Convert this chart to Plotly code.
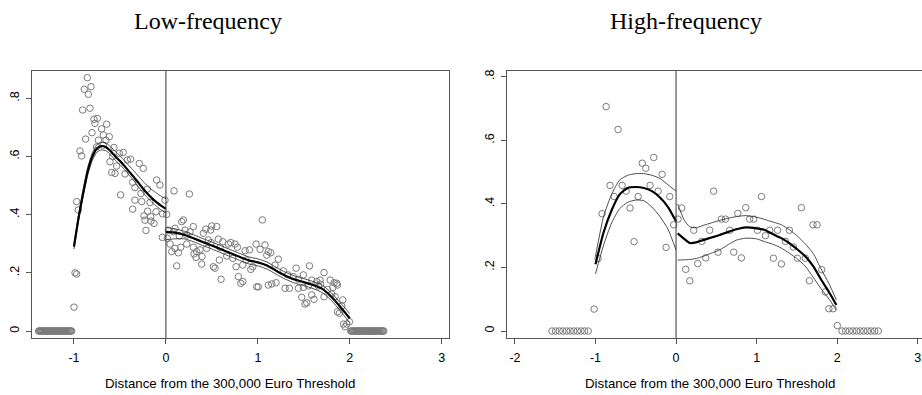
import numpy as np
import plotly.graph_objects as go

# ---------------- data: Low-frequency panel ----------------
lf_zero_left_x = [round(-1.385 + 0.01 * i, 3) for i in range(37)]
lf_zero_right_x = [round(2.01 + 0.01 * i, 3) for i in range(37)]

lf_pts = [
    (-1.0, 0.082), (-0.989, 0.20), (-0.971, 0.196), (-0.971, 0.445), (-0.953, 0.416),
    (-0.935, 0.619), (-0.917, 0.602), (-0.906, 0.760), (-0.888, 0.831), (-0.873, 0.660),
    (-0.855, 0.871), (-0.844, 0.814), (-0.826, 0.766), (-0.815, 0.840), (-0.804, 0.682),
    (-0.783, 0.728), (-0.772, 0.714), (-0.754, 0.633), (-0.746, 0.731), (-0.735, 0.656),
    (-0.699, 0.695), (-0.681, 0.674), (-0.681, 0.639), (-0.652, 0.656), (-0.645, 0.711),
    (-0.616, 0.668), (-0.609, 0.582), (-0.590, 0.545), (-0.580, 0.600), (-0.565, 0.631),
    (-0.554, 0.542), (-0.536, 0.567), (-0.507, 0.611), (-0.493, 0.468), (-0.464, 0.614),
    (-0.445, 0.540), (-0.420, 0.588), (-0.384, 0.591), (-0.362, 0.511), (-0.362, 0.419),
    (-0.337, 0.493), (-0.337, 0.450), (-0.290, 0.576), (-0.272, 0.473), (-0.263, 0.445),
    (-0.246, 0.559), (-0.239, 0.396), (-0.228, 0.381), (-0.217, 0.346), (-0.203, 0.488),
    (-0.199, 0.412), (-0.173, 0.442), (-0.166, 0.393), (-0.163, 0.378), (-0.129, 0.370),
    (-0.108, 0.410), (-0.101, 0.519), (-0.065, 0.502), (-0.039, 0.322), (-0.036, 0.403),
    (-0.010, 0.450),
    (0.008, 0.401), (0.015, 0.319), (0.026, 0.347), (0.045, 0.299), (0.063, 0.273),
    (0.081, 0.341), (0.088, 0.482), (0.099, 0.353), (0.099, 0.284), (0.117, 0.224),
    (0.135, 0.269), (0.146, 0.327), (0.161, 0.288), (0.172, 0.376), (0.190, 0.382),
    (0.208, 0.347), (0.226, 0.330), (0.226, 0.299), (0.255, 0.471), (0.262, 0.341),
    (0.298, 0.359), (0.298, 0.288), (0.306, 0.265), (0.327, 0.253), (0.335, 0.273),
    (0.371, 0.279), (0.389, 0.230), (0.393, 0.256), (0.407, 0.336), (0.433, 0.350),
    (0.444, 0.284), (0.462, 0.313), (0.487, 0.347), (0.491, 0.304), (0.498, 0.361),
    (0.516, 0.221), (0.534, 0.216), (0.553, 0.359), (0.570, 0.316), (0.581, 0.244),
    (0.589, 0.288), (0.600, 0.178), (0.618, 0.307), (0.661, 0.258), (0.680, 0.299),
    (0.705, 0.304), (0.727, 0.250), (0.752, 0.299), (0.763, 0.221), (0.777, 0.288),
    (0.788, 0.187), (0.814, 0.164), (0.836, 0.170), (0.836, 0.227), (0.861, 0.276),
    (0.872, 0.244), (0.908, 0.279), (0.923, 0.212), (0.945, 0.221), (0.980, 0.299),
    (0.988, 0.152),
    (1.005, 0.152), (1.024, 0.281), (1.049, 0.382), (1.078, 0.296), (1.097, 0.261),
    (1.114, 0.273), (1.114, 0.158), (1.140, 0.269), (1.151, 0.162), (1.187, 0.227),
    (1.198, 0.166), (1.223, 0.247), (1.278, 0.207), (1.296, 0.147), (1.326, 0.193),
    (1.343, 0.147), (1.386, 0.187), (1.416, 0.216), (1.441, 0.178), (1.441, 0.147),
    (1.477, 0.116), (1.495, 0.193), (1.495, 0.150), (1.513, 0.093), (1.532, 0.097),
    (1.550, 0.155), (1.561, 0.224), (1.586, 0.175), (1.586, 0.124), (1.611, 0.109),
    (1.641, 0.170), (1.659, 0.155), (1.677, 0.175), (1.684, 0.161), (1.720, 0.201),
    (1.720, 0.118), (1.756, 0.143), (1.786, 0.175), (1.804, 0.127), (1.815, 0.150),
    (1.829, 0.166), (1.840, 0.118), (1.858, 0.164), (1.866, 0.158), (1.866, 0.066),
    (1.887, 0.061), (1.913, 0.086), (1.924, 0.107), (1.931, 0.024), (1.949, 0.015),
    (1.967, 0.024), (1.996, 0.032),
]
lf_x = [p[0] for p in lf_pts]
lf_y = [p[1] for p in lf_pts]

lf_fitL_x = [-1.0, -0.95, -0.9, -0.85, -0.8, -0.75, -0.7, -0.65, -0.6, -0.55, -0.5,
             -0.45, -0.4, -0.35, -0.3, -0.25, -0.2, -0.15, -0.1, -0.05, 0.0]
lf_fitL_y = [0.29, 0.39, 0.475, 0.55, 0.60, 0.628, 0.636, 0.632, 0.618, 0.600, 0.585,
             0.567, 0.548, 0.53, 0.51, 0.49, 0.472, 0.456, 0.442, 0.43, 0.42]
lf_fitL_hi = [0.298, 0.40, 0.487, 0.563, 0.613, 0.641, 0.649, 0.646, 0.633, 0.617, 0.603,
              0.586, 0.568, 0.551, 0.533, 0.515, 0.499, 0.485, 0.474, 0.463, 0.455]
lf_fitL_lo = [0.282, 0.38, 0.463, 0.537, 0.587, 0.615, 0.623, 0.619, 0.605, 0.587, 0.572,
              0.555, 0.536, 0.517, 0.496, 0.476, 0.458, 0.442, 0.428, 0.416, 0.406]

lf_fitR_x = [0.0, 0.1, 0.2, 0.3, 0.4, 0.5, 0.6, 0.7, 0.8, 0.9, 1.0, 1.1, 1.2, 1.3, 1.4,
             1.5, 1.6, 1.7, 1.8, 1.9, 2.0]
lf_fitR_y = [0.341, 0.338, 0.331, 0.319, 0.306, 0.294, 0.281, 0.268, 0.255, 0.243, 0.236,
             0.225, 0.207, 0.190, 0.177, 0.168, 0.158, 0.145, 0.118, 0.082, 0.044]
lf_fitR_hi = [0.356, 0.351, 0.343, 0.331, 0.318, 0.306, 0.293, 0.280, 0.267, 0.255, 0.248,
              0.237, 0.219, 0.202, 0.189, 0.180, 0.170, 0.158, 0.131, 0.096, 0.060]
lf_fitR_lo = [0.314, 0.317, 0.317, 0.307, 0.294, 0.282, 0.269, 0.256, 0.243, 0.231, 0.224,
              0.213, 0.195, 0.178, 0.165, 0.156, 0.146, 0.132, 0.105, 0.068, 0.028]

# ---------------- data: High-frequency panel ----------------
hf_zero_left_x = [round(-1.54 + 0.045 * i, 3) for i in range(11)]
hf_zero_right_x = [round(2.06 + 0.045 * i, 3) for i in range(11)]

hf_pts = [
    (-1.017, 0.069), (-0.968, 0.228), (-0.918, 0.369), (-0.868, 0.706), (-0.819, 0.458),
    (-0.769, 0.423), (-0.72, 0.634), (-0.67, 0.458), (-0.62, 0.44), (-0.571, 0.387),
    (-0.521, 0.281), (-0.471, 0.423), (-0.42, 0.528), (-0.376, 0.512), (-0.323, 0.458),
    (-0.277, 0.546), (-0.223, 0.44), (-0.173, 0.493), (-0.124, 0.263), (-0.078, 0.423),
    (-0.03, 0.334),
    (0.025, 0.352), (0.07, 0.387), (0.12, 0.194), (0.17, 0.158), (0.22, 0.317),
    (0.269, 0.212), (0.319, 0.282), (0.368, 0.23), (0.418, 0.317), (0.466, 0.44),
    (0.521, 0.248), (0.563, 0.352), (0.613, 0.352), (0.666, 0.317), (0.716, 0.248),
    (0.766, 0.37), (0.811, 0.23), (0.865, 0.388), (0.914, 0.352), (0.964, 0.352),
    (1.01, 0.317), (1.06, 0.423), (1.11, 0.30), (1.163, 0.317), (1.208, 0.229),
    (1.26, 0.317), (1.307, 0.211), (1.357, 0.282), (1.407, 0.317), (1.456, 0.264),
    (1.506, 0.229), (1.556, 0.388), (1.605, 0.229), (1.655, 0.158), (1.70, 0.334),
    (1.75, 0.334), (1.808, 0.193), (1.853, 0.123), (1.898, 0.07), (1.948, 0.07),
    (2.002, 0.017),
]
hf_x = [p[0] for p in hf_pts]
hf_y = [p[1] for p in hf_pts]

hf_fitL_x = [-1.0, -0.9, -0.8, -0.7, -0.6, -0.5, -0.4, -0.3, -0.2, -0.1, 0.0]
hf_fitL_y = [0.21, 0.31, 0.38, 0.43, 0.45, 0.453, 0.45, 0.44, 0.42, 0.39, 0.345]
hf_fitL_hi = [0.235, 0.36, 0.43, 0.475, 0.49, 0.495, 0.495, 0.49, 0.48, 0.46, 0.44]
hf_fitL_lo = [0.18, 0.27, 0.34, 0.385, 0.405, 0.412, 0.41, 0.39, 0.36, 0.32, 0.255]

hf_fitR_x = [0.02, 0.1, 0.17, 0.25, 0.335, 0.45, 0.54, 0.65, 0.75, 0.865, 1.0, 1.1,
             1.2, 1.3, 1.41, 1.5, 1.6, 1.7, 1.8, 1.9, 1.99]
hf_fitR_y = [0.307, 0.29, 0.277, 0.279, 0.286, 0.295, 0.302, 0.312, 0.32, 0.326, 0.323,
             0.318, 0.305, 0.293, 0.276, 0.258, 0.236, 0.205, 0.162, 0.122, 0.082]
hf_fitR_hi = [0.40, 0.35, 0.328, 0.325, 0.332, 0.341, 0.348, 0.355, 0.36, 0.363, 0.358,
              0.351, 0.343, 0.335, 0.318, 0.30, 0.275, 0.245, 0.195, 0.148, 0.098]
hf_fitR_lo = [0.223, 0.224, 0.225, 0.228, 0.235, 0.246, 0.255, 0.272, 0.286, 0.292, 0.29,
              0.281, 0.273, 0.262, 0.244, 0.228, 0.205, 0.17, 0.133, 0.10, 0.066]

# ---------------- labels ----------------
title_left = "Low-frequency"
title_right = "High-frequency"
xlabel = "Distance from the 300,000 Euro Threshold"
lf_xticks = [-1, 0, 1, 2, 3]
hf_xticks = [-2, -1, 0, 1, 2, 3]
yticks = [0, 0.2, 0.4, 0.6, 0.8]
ytick_text = ["0", ".2", ".4", ".6", ".8"]

# ---------------- figure ----------------
W, H = 922, 395
MK = dict(symbol="circle-open", size=6.5, color="#7a7a7a", line=dict(width=1, color="#7a7a7a"))

fig = go.Figure()


def add_panel(xa, ya, zl, zr, px, py, fits):
    fig.add_trace(go.Scatter(x=zl + zr, y=[0] * (len(zl) + len(zr)), mode="markers",
                             marker=MK, xaxis=xa, yaxis=ya, showlegend=False))
    fig.add_trace(go.Scatter(x=px, y=py, mode="markers", marker=MK,
                             xaxis=xa, yaxis=ya, showlegend=False))
    for fx, fy, fhi, flo in fits:
        for yy, w, c in ((fhi, 0.9, "#3a3a3a"), (flo, 0.9, "#3a3a3a"), (fy, 2.2, "#000000")):
            fig.add_trace(go.Scatter(x=fx, y=yy, mode="lines",
                                     line=dict(color=c, width=w, shape="spline", smoothing=0.6),
                                     xaxis=xa, yaxis=ya, showlegend=False))


add_panel("x", "y", lf_zero_left_x, lf_zero_right_x, lf_x, lf_y,
          [(lf_fitL_x, lf_fitL_y, lf_fitL_hi, lf_fitL_lo),
           (lf_fitR_x, lf_fitR_y, lf_fitR_hi, lf_fitR_lo)])
add_panel("x2", "y2", hf_zero_left_x, hf_zero_right_x, hf_x, hf_y,
          [(hf_fitL_x, hf_fitL_y, hf_fitL_hi, hf_fitL_lo),
           (hf_fitR_x, hf_fitR_y, hf_fitR_hi, hf_fitR_lo)])

tick_font = dict(family="Liberation Sans, Arial, sans-serif", size=12.5, color="#000")
label_font = dict(family="Liberation Sans, Arial, sans-serif", size=13.3, color="#000")
common = dict(showgrid=False, zeroline=False, showline=True, linecolor="#555", linewidth=1.2,
              ticks="outside", ticklen=5, tickwidth=1, tickcolor="#555", tickfont=tick_font)

ydom = [1 - 338 / H, 1 - 71 / H]
fig.update_layout(
    width=W, height=H, margin=dict(l=0, r=0, t=0, b=0),
    paper_bgcolor="white", plot_bgcolor="white",
    xaxis=dict(domain=[31.7 / W, 449 / W], range=[-1.460, 3.079], tickvals=lf_xticks,
               ticktext=[str(v) for v in lf_xticks], mirror=True, anchor="y",
               ticklabelstandoff=3, **common),
    yaxis=dict(domain=ydom, range=[-0.024, 0.894], tickvals=yticks, ticktext=ytick_text,
               tickangle=-90, mirror=True, anchor="x", ticklabelstandoff=2, **common),
    xaxis2=dict(domain=[507.3 / W, 1.0], range=[-2.095, 3.053], tickvals=hf_xticks,
                ticktext=[str(v) for v in hf_xticks], mirror=True, anchor="y2",
                ticklabelstandoff=3, **common),
    yaxis2=dict(domain=ydom, range=[-0.022, 0.818], tickvals=yticks, ticktext=ytick_text,
                tickangle=-90, mirror=False, anchor="x2", ticklabelstandoff=2, **common),
    shapes=[
        dict(type="line", xref="x", yref="y domain", x0=0, x1=0, y0=0, y1=1,
             line=dict(color="#333", width=1)),
        dict(type="line", xref="x2", yref="y2 domain", x0=0, x1=0, y0=0, y1=1,
             line=dict(color="#333", width=1)),
    ],
    annotations=[
        dict(text=title_left, x=208 / W, y=1 - 21 / H, xref="paper", yref="paper",
             showarrow=False, xanchor="center", yanchor="middle",
             font=dict(family="Liberation Serif, Times New Roman, serif", size=24, color="#000")),
        dict(text=title_right, x=686 / W, y=1 - 21 / H, xref="paper", yref="paper",
             showarrow=False, xanchor="center", yanchor="middle",
             font=dict(family="Liberation Serif, Times New Roman, serif", size=24, color="#000")),
        dict(text=xlabel, x=230 / W, y=1 - 383 / H, xref="paper", yref="paper",
             showarrow=False, xanchor="center", yanchor="middle", font=label_font),
        dict(text=xlabel, x=710 / W, y=1 - 383 / H, xref="paper", yref="paper",
             showarrow=False, xanchor="center", yanchor="middle", font=label_font),
    ],
)

fig.write_html("out.html")
